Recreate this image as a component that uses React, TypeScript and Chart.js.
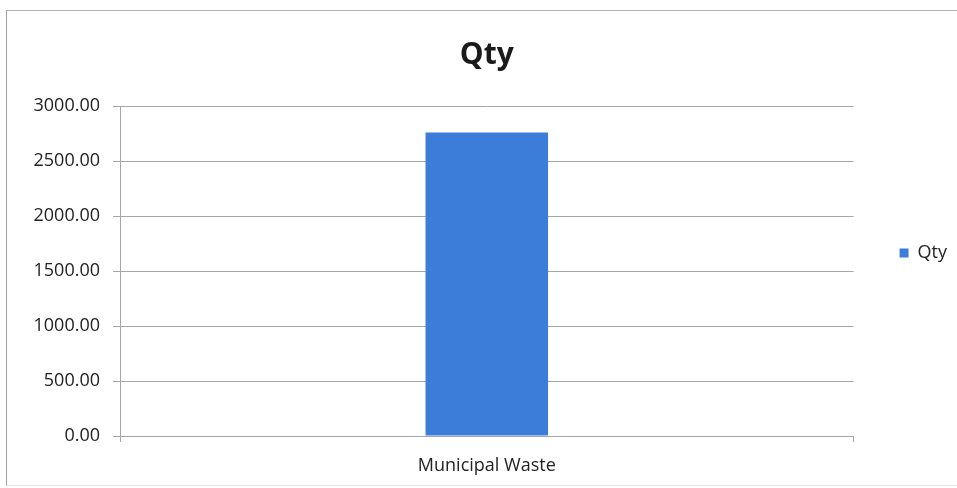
import React, { useEffect, useRef } from "react";
import { Chart, registerables } from "chart.js";

Chart.register(...registerables);

const categories = ["Municipal Waste"];
const qtyValues = [2760];
const seriesLabel = "Qty";
const chartTitle = "Qty";
const yMin = 0;
const yMax = 3000;
const yStep = 500;

const FONT = "'Open Sans', 'DejaVu Sans', sans-serif";
const GRID = "#a6a6a6";
const TEXT = "#222222";
const BAR = "#3b7dd8";

export default function App() {
  const ref = useRef<HTMLCanvasElement | null>(null);

  useEffect(() => {
    if (!ref.current) return;
    const chart = new Chart(ref.current, {
      type: "bar",
      data: {
        labels: categories,
        datasets: [
          {
            label: seriesLabel,
            data: qtyValues,
            backgroundColor: BAR,
            borderWidth: 0,
            barPercentage: 0.167,
            categoryPercentage: 1,
          },
        ],
      },
      options: {
        animation: false,
        responsive: false,
        maintainAspectRatio: false,
        layout: { padding: { top: 18, left: 0, right: 0, bottom: 0 } },
        plugins: {
          title: {
            display: true,
            text: chartTitle,
            fullSize: false,
            color: "#1a1a1a",
            font: { family: FONT, size: 30, weight: "bold" },
            padding: { top: 19, bottom: 33 },
          },
          legend: {
            position: "right",
            fullSize: true,
            maxWidth: 106,
            labels: {
              boxWidth: 9,
              boxHeight: 9,
              padding: 46,
              color: TEXT,
              font: { family: FONT, size: 18 },
            },
          },
          tooltip: { enabled: false },
        },
        scales: {
          x: {
            grid: {
              display: true,
              drawOnChartArea: false,
              tickLength: 6,
              color: GRID,
              offset: true,
            },
            border: { color: GRID },
            ticks: { padding: 13, color: TEXT, font: { family: FONT, size: 18 } },
            afterFit: (s: any) => {
              s.height = 52;
            },
          },
          y: {
            min: yMin,
            max: yMax,
            ticks: {
              stepSize: yStep,
              padding: 13,
              color: TEXT,
              font: { family: FONT, size: 18 },
              callback: (v: any) => Number(v).toFixed(2),
            },
            grid: { color: GRID, tickLength: 7 },
            border: { color: GRID },
            afterFit: (s: any) => {
              s.width = 120;
            },
          },
        },
      },
    } as any);
    return () => chart.destroy();
  }, []);

  return (
    <div
      style={{
        position: "fixed",
        left: 0,
        top: 0,
        width: 957,
        height: 488,
        overflow: "hidden",
        background: "#ffffff",
      }}
    >
      <div
        style={{
          position: "absolute",
          left: 6,
          top: 10,
          width: 1000,
          height: 474,
          borderLeft: "1px solid #a0a0a0",
          borderTop: "1px solid #b4b4b4",
          borderBottom: "1px solid #e4e4e4",
          borderRight: "none",
        }}
      />
      <canvas
        ref={ref}
        width={957}
        height={488}
        style={{ position: "absolute", left: 0, top: 0, display: "block" }}
      />
    </div>
  );
}
